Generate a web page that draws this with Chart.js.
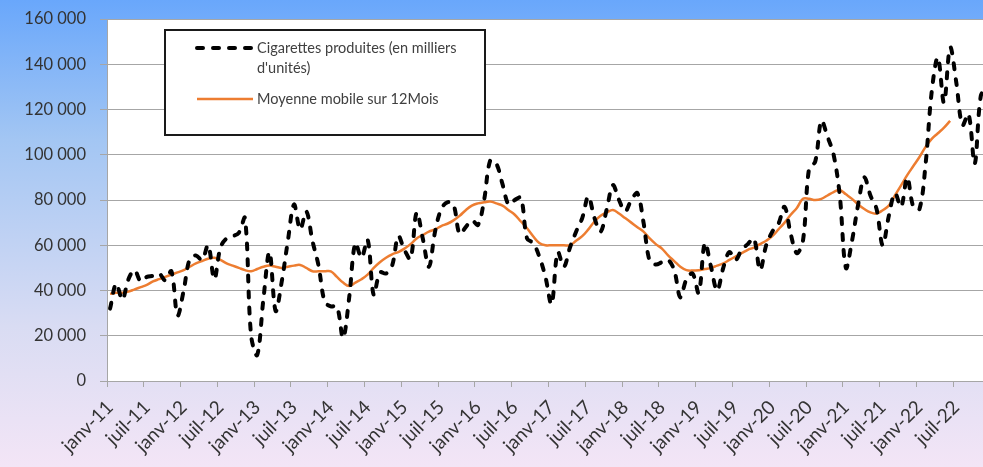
<!DOCTYPE html>
<html>
<head>
<meta charset="utf-8">
<script src="https://cdn.jsdelivr.net/npm/chart.js@4.4.1/dist/chart.umd.min.js"></script>
<style>
  html, body { margin: 0; padding: 0; overflow: hidden; width: 983px; height: 467px; }
  #wrap { width: 990px; height: 467px; }
</style>
</head>
<body>
<div id="wrap"><canvas id="graphique" width="990" height="467"></canvas></div>
<script>
// mois de janv-11 a dec-22
const moisAbr = ['janv', 'févr', 'mars', 'avr', 'mai', 'juin', 'juil', 'août', 'sept', 'oct', 'nov', 'déc'];
const annees = ['11', '12', '13', '14', '15', '16', '17', '18', '19', '20', '21', '22'];
const categories = [];
annees.forEach(a => moisAbr.forEach(m => categories.push(m + '-' + a)));

// Cigarettes produites (en milliers d'unites)
const production = [
  32000, 43000, 36000, 45000, 49000, 44000, 46000, 46500, 47500, 44500, 48500, 29000,
  40000, 54000, 55500, 53500, 60000, 45000, 59000, 63000, 64000, 65500, 72000, 20000,
  11500, 36000, 57000, 31000, 44000, 62000, 78000, 67000, 75000, 62000, 51000, 35000,
  33000, 33000, 19000, 37000, 61000, 54500, 62500, 38000, 48000, 47500, 51000, 64000,
  58000, 54000, 74500, 63000, 50500, 66000, 76000, 79000, 78000, 65000, 68000, 71000,
  69000, 80000, 97500, 96000, 87000, 78000, 80000, 81000, 63000, 61000, 55000, 46000,
  34000, 57000, 50500, 59000, 66000, 72000, 81500, 72000, 66000, 76000, 86600, 80000,
  75000, 80000, 83000, 70000, 53000, 51500, 52500, 53500, 49000, 37000, 45000, 47500,
  39000, 61000, 50500, 40000, 50000, 57000, 53500, 58000, 60500, 63000, 49000, 60000,
  66000, 69500, 77000, 65000, 56500, 62000, 94000, 97000, 115000, 108000, 100000, 82000,
  50000, 62000, 78000, 90000, 82000, 76000, 60000, 73000, 83000, 77000, 90000, 77000,
  76000, 96000, 128000, 143000, 123000, 147500, 132000, 113000, 118000, 96000, 126000, 130000
];

// Moyenne mobile sur 12 mois (s'arrete en juin-22)
const moyenneMobile = [
  38500, 39000, 39000, 39500, 40500, 41500, 42500, 44000, 45000, 46000, 47000, 48000,
  49000, 50500, 52000, 53000, 54000, 54500, 53500, 52000, 51000, 50000, 49000, 48500,
  49500, 50500, 51000, 50500, 50000, 50500, 51000, 51300, 50000, 48500, 48500, 48500,
  48500, 46000, 43500, 42000, 43500, 45000, 47000, 50000, 52500, 54500, 56000, 57000,
  58500, 60500, 63000, 64500, 66000, 67000, 68500, 69500, 71000, 73000, 75500, 77500,
  78500, 79000, 79300, 78500, 77500, 75500, 73500, 70500, 67500, 64000, 61000, 60000,
  60000, 60000, 60000, 60000, 62000, 64000, 67000, 70500, 73000, 74500, 75600, 74000,
  72000, 70000, 68000, 66000, 63000, 60500, 58500, 55500, 53000, 50500, 49000, 48800,
  49000, 49500, 50000, 51000, 52000, 53500, 55000, 56500, 58000, 59000, 60500, 62000,
  64000, 67000, 70000, 73500, 76500, 80500, 80500, 80000, 80500, 82000, 83500, 84400,
  82500, 80500, 78000, 76000, 74500, 74000, 75500, 77500, 82000, 86500, 91000, 95000,
  99000, 103500, 107000, 109500, 112000, 115000
];

const yTicks = [0, 20000, 40000, 60000, 80000, 100000, 120000, 140000, 160000];

const gris = '#a6a6a6';
const police = 'Lato, "Open Sans", sans-serif';

function milliers(v) {
  return String(v).replace(/\B(?=(\d{3})+(?!\d))/g, ' ');
}

const fond = {
  id: 'fond',
  beforeDraw(chart) {
    const { ctx, chartArea: a, width, height } = chart;
    const g = ctx.createLinearGradient(0, 0, 0, height);
    g.addColorStop(0, '#69a7fb');
    g.addColorStop(0.3, '#a3c6f3');
    g.addColorStop(0.7, '#d9dcf3');
    g.addColorStop(1, '#f3e5f6');
    ctx.save();
    ctx.fillStyle = g;
    ctx.fillRect(0, 0, width, height);
    ctx.fillStyle = '#ffffff';
    ctx.fillRect(a.left, a.top, a.right - a.left, a.bottom - a.top);
    ctx.restore();
  }
};

const legende = {
  id: 'legende',
  afterDatasetsDraw(chart) {
    const ctx = chart.ctx;
    const ds = chart.data.datasets;
    ctx.save();
    ctx.fillStyle = '#ffffff';
    ctx.fillRect(165, 30, 320, 105);
    ctx.strokeStyle = '#1a1a1a';
    ctx.lineWidth = 2;
    ctx.strokeRect(165, 30, 320, 105);

    ctx.font = '14.5px ' + police;
    ctx.fillStyle = '#404040';
    ctx.textBaseline = 'middle';
    const rangees = [48, 99];
    ds.forEach((d, k) => {
      const y = rangees[k];
      ctx.beginPath();
      ctx.strokeStyle = d.borderColor;
      ctx.lineWidth = d.borderWidth;
      ctx.lineCap = d.borderCapStyle || 'butt';
      ctx.setLineDash(d.borderDash || []);
      ctx.moveTo(197, y);
      ctx.lineTo(253, y);
      ctx.stroke();
      ctx.setLineDash([]);
      d.label.split('\n').forEach((t, j) => ctx.fillText(t, 257, y + j * 20));
    });
    ctx.restore();
  }
};

new Chart(document.getElementById('graphique'), {
  type: 'line',
  data: {
    labels: categories,
    datasets: [
      {
        label: "Cigarettes produites (en milliers\nd'unités)",
        data: production,
        borderColor: '#000000',
        borderWidth: 4,
        borderDash: [6, 10],
        borderCapStyle: 'round',
        tension: 0.35,
        pointRadius: 0,
        fill: false
      },
      {
        label: 'Moyenne mobile sur 12Mois',
        data: moyenneMobile,
        borderColor: '#ed7d31',
        borderWidth: 2.5,
        tension: 0.4,
        pointRadius: 0,
        fill: false
      }
    ]
  },
  options: {
    responsive: false,
    animation: false,
    devicePixelRatio: 1,
    layout: { padding: { top: 19, right: 0, left: 0, bottom: 0 } },
    plugins: {
      legend: { display: false },
      tooltip: { enabled: false }
    },
    scales: {
      x: {
        offset: true,
        grid: {
          offset: true,
          drawOnChartArea: false,
          drawTicks: true,
          tickLength: 6,
          color: c => (c.index % 6 === 0 ? gris : 'rgba(0,0,0,0)')
        },
        border: { display: true, color: gris, width: 1 },
        ticks: {
          autoSkip: false,
          minRotation: 45,
          maxRotation: 45,
          padding: 9,
          color: '#333333',
          font: { family: police, size: 19 },
          callback: function (v, i) { return i % 6 === 0 ? this.getLabelForValue(v) : ''; }
        },
        afterFit: s => { s.height = 86; s.paddingLeft = 0; s.paddingRight = 0; }
      },
      y: {
        min: 0,
        max: 160000,
        afterBuildTicks: s => { s.ticks = yTicks.map(v => ({ value: v })); },
        grid: { color: gris, lineWidth: 1, drawTicks: true, tickLength: 7 },
        border: { display: true, color: gris, width: 1 },
        ticks: {
          padding: 14,
          color: '#333333',
          font: { family: police, size: 16.5 },
          callback: v => milliers(v)
        },
        afterFit: s => { s.width = 107; s.paddingTop = 0; s.paddingBottom = 0; }
      }
    }
  },
  plugins: [fond, legende]
});
</script>
</body>
</html>
